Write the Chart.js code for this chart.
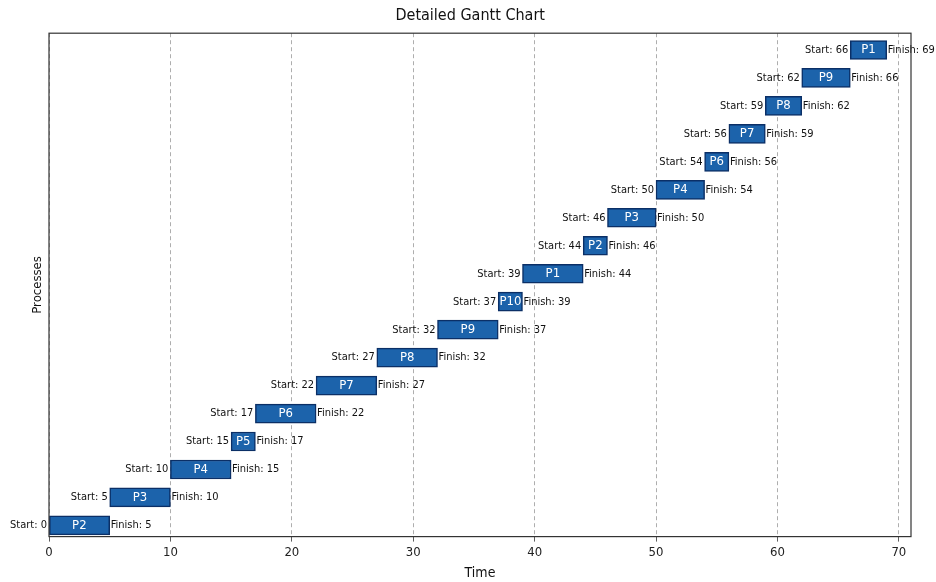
<!DOCTYPE html>
<html>
<head>
<meta charset="utf-8">
<script src="https://cdn.jsdelivr.net/npm/chart.js@4"></script>
<style>
  html, body { margin: 0; padding: 0; background: #fff; }
</style>
</head>
<body>
<canvas id="gantt" width="936" height="582"></canvas>
<script>
const processes = ["P2", "P3", "P4", "P5", "P6", "P7", "P8", "P9", "P10", "P1", "P2", "P3", "P4", "P6", "P7", "P8", "P9", "P1"];
const starts = [0, 5, 10, 15, 17, 22, 27, 32, 37, 39, 44, 46, 50, 54, 56, 59, 62, 66];
const finishes = [5, 10, 15, 17, 22, 27, 32, 37, 39, 44, 46, 50, 54, 56, 59, 62, 66, 69];
const timeTicks = [0, 10, 20, 30, 40, 50, 60, 70];

const FONT = "'DejaVu Sans Condensed', 'DejaVu Sans', sans-serif";

// start / finish / name text next to every bar
const barLabels = {
    id: "barLabels",
    afterDatasetsDraw(chart) {
        const ctx = chart.ctx;
        const xs = chart.scales.x;
        const ys = chart.scales.y;
        ctx.save();
        ctx.textBaseline = "middle";
        processes.forEach((p, i) => {
            const x0 = xs.getPixelForValue(starts[i]);
            const x1 = xs.getPixelForValue(finishes[i]);
            const y = ys.getPixelForValue(i);
            ctx.font = "11px " + FONT;
            ctx.fillStyle = "#111";
            ctx.textAlign = "right";
            ctx.fillText("Start: " + starts[i], x0 - 2, y);
            ctx.textAlign = "left";
            ctx.fillText("Finish: " + finishes[i], x1 + 1, y);
            ctx.font = "13px " + FONT;
            ctx.fillStyle = "#fff";
            ctx.textAlign = "center";
            ctx.fillText(p, (x0 + x1) / 2, y);
        });
        ctx.restore();
    }
};

// box round the plot area
const frame = {
    id: "frame",
    afterDraw(chart) {
        const a = chart.chartArea;
        const ctx = chart.ctx;
        ctx.save();
        ctx.strokeStyle = "#333";
        ctx.lineWidth = 1.2;
        ctx.strokeRect(a.left, a.top, a.right - a.left, a.bottom - a.top);
        ctx.restore();
    }
};

const ctx = document.getElementById("gantt").getContext("2d");
new Chart(ctx, {
    type: "bar",
    data: {
        datasets: [{
            data: processes.map((p, i) => ({ x: [starts[i], finishes[i]], y: i })),
            backgroundColor: "#1c63ab",
            borderColor: "#0b2f66",
            borderWidth: 1.5,
            borderSkipped: false,
            barThickness: 19
        }]
    },
    options: {
        indexAxis: "y",
        responsive: false,
        animation: false,
        layout: { padding: { left: 29.4, right: 25, bottom: 0 } },
        plugins: {
            legend: { display: false },
            tooltip: { enabled: false },
            title: {
                display: true,
                text: "Detailed Gantt Chart",
                color: "#111",
                font: { family: FONT, size: 16, weight: "normal" },
                padding: { top: 6, bottom: 8 }
            }
        },
        scales: {
            x: {
                type: "linear",
                min: 0,
                max: 71,
                afterBuildTicks: axis => {
                    axis.ticks = timeTicks.map(v => ({ value: v }));
                },
                ticks: {
                    color: "#222",
                    padding: 3,
                    maxRotation: 0,
                    font: { family: FONT, size: 13 }
                },
                grid: {
                    color: "#999",
                    lineWidth: 0.8,
                    tickColor: "#333",
                    tickLength: 5
                },
                border: { display: false, dash: [4, 3] },
                title: {
                    display: true,
                    text: "Time",
                    color: "#111",
                    font: { family: FONT, size: 14 },
                    padding: { top: 2, bottom: 0 }
                }
            },
            y: {
                type: "linear",
                min: -0.4,
                max: 17.6,
                offset: false,
                ticks: { display: false },
                grid: { display: false, drawTicks: false, offset: false },
                border: { display: false },
                title: {
                    display: true,
                    text: "Processes",
                    color: "#111",
                    font: { family: FONT, size: 13 },
                    padding: { top: 0, bottom: 4 }
                }
            }
        }
    },
    plugins: [barLabels, frame]
});
</script>
</body>
</html>
